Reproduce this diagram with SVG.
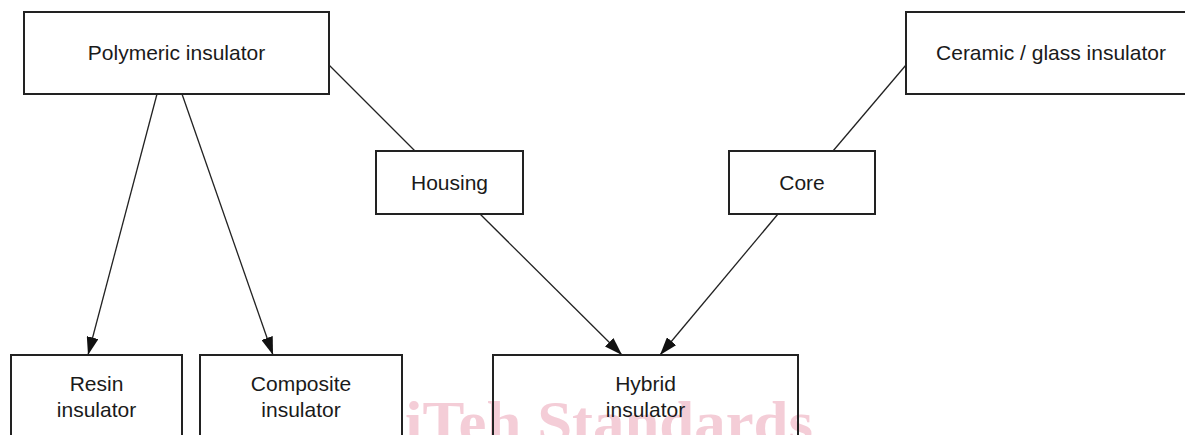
<svg xmlns="http://www.w3.org/2000/svg" width="1185" height="435" viewBox="0 0 1185 435">
<defs>
<style>
.box{fill:none;stroke:#222;stroke-width:2}
.lbl{font-family:"Liberation Sans",Arial,sans-serif;font-size:21px;fill:#1a1a1a;text-anchor:middle}
.con{stroke:#222;stroke-width:1.3;fill:none}
.wm{font-family:"Liberation Serif","Times New Roman",serif;font-weight:bold;font-size:60px;fill:#f4cdd7}
</style>
<marker id="arr" viewBox="0 0 18 12" refX="18" refY="6" markerWidth="18" markerHeight="12" markerUnits="userSpaceOnUse" orient="auto">
<path d="M0,0 L18,6 L0,12 Z" fill="#111"/>
</marker>
</defs>
<rect width="1185" height="435" fill="#fff"/>
<text class="wm" x="405" y="442" textLength="408" lengthAdjust="spacingAndGlyphs">iTeh Standards</text>
<g id="connectors">
<line class="con" x1="157" y1="94" x2="88" y2="355" marker-end="url(#arr)"/>
<line class="con" x1="182" y1="94" x2="273" y2="355" marker-end="url(#arr)"/>
<line class="con" x1="329" y1="65" x2="415" y2="151"/>
<line class="con" x1="906" y1="65" x2="833" y2="151"/>
<line class="con" x1="480" y1="214" x2="622" y2="355" marker-end="url(#arr)"/>
<line class="con" x1="778" y1="214" x2="660" y2="355" marker-end="url(#arr)"/>
</g>
<g id="polymeric">
<rect class="box" x="24" y="12" width="305" height="82"/>
<text class="lbl" x="176.5" y="60">Polymeric insulator</text>
</g>
<g id="ceramic">
<rect class="box" x="906" y="12" width="300" height="82"/>
<text class="lbl" x="1051" y="60">Ceramic / glass insulator</text>
</g>
<g id="housing">
<rect class="box" x="376" y="151" width="147" height="63"/>
<text class="lbl" x="449.5" y="190">Housing</text>
</g>
<g id="core">
<rect class="box" x="729" y="151" width="146" height="63"/>
<text class="lbl" x="802" y="190">Core</text>
</g>
<g id="resin">
<rect class="box" x="11" y="355" width="171" height="100"/>
<text class="lbl" x="96.5" y="391">Resin</text>
<text class="lbl" x="96.5" y="417">insulator</text>
</g>
<g id="composite">
<rect class="box" x="200" y="355" width="202" height="100"/>
<text class="lbl" x="301" y="391">Composite</text>
<text class="lbl" x="301" y="417">insulator</text>
</g>
<g id="hybrid">
<rect class="box" x="493" y="355" width="305" height="100"/>
<text class="lbl" x="645.5" y="391">Hybrid</text>
<text class="lbl" x="645.5" y="417">insulator</text>
</g>
</svg>
